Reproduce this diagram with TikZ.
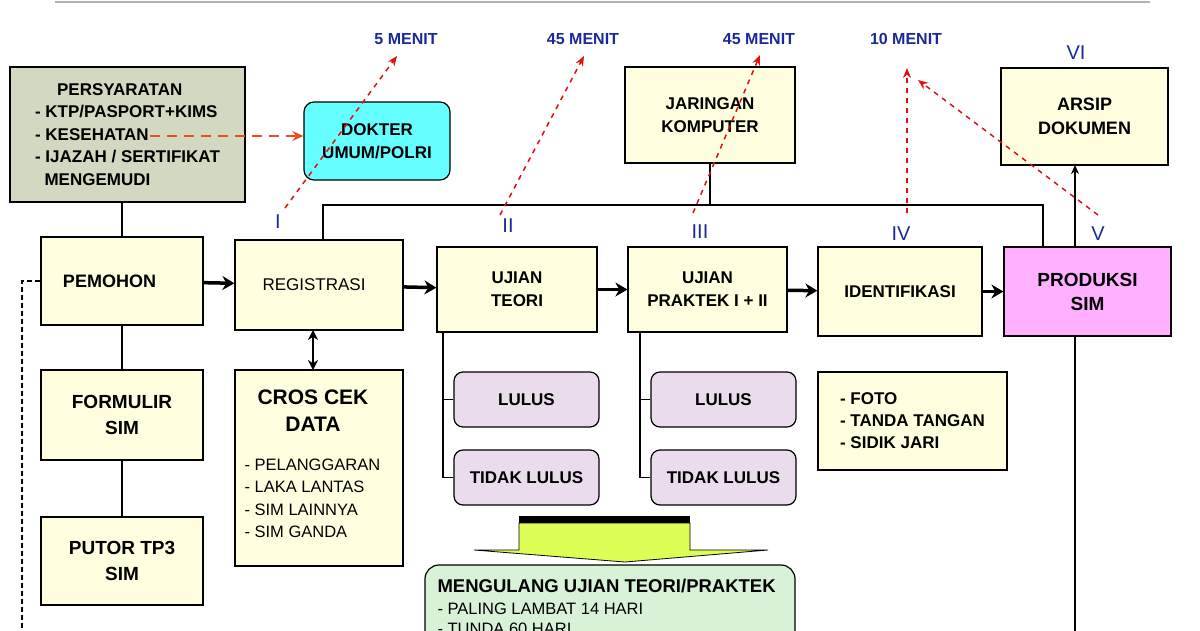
\documentclass[tikz,border=0pt]{standalone}
\usepackage{fontspec}
\setmainfont{Liberation Sans}
\usetikzlibrary{arrows.meta}
\definecolor{greenbox}{HTML}{D3D8C0}
\definecolor{yel}{HTML}{FFFFE0}
\definecolor{cyanb}{HTML}{66FFFF}
\definecolor{pinkb}{HTML}{FFB0FF}
\definecolor{lav}{HTML}{EADCEC}
\definecolor{mint}{HTML}{D8F2D8}
\definecolor{lime}{HTML}{DDFF55}
\definecolor{navy}{HTML}{1A2A9A}
\definecolor{rd}{HTML}{E01010}
\definecolor{orng}{HTML}{E85020}
\tikzset{
 bx/.style={draw,line width=1.2pt,fill=yel,font=\fontsize{17}{20}\selectfont\bfseries,align=center},
 rbx/.style={bx,rounded corners=9pt,fill=lav},
 flow/.style={line width=3.5pt,-{Stealth[length=12pt,width=14pt]}},
 ln/.style={line width=1.2pt},
 rdash/.style={rd,line width=1.5pt,dash pattern=on 5pt off 5pt,-{Stealth[length=10pt,width=8pt]}},
 lbl/.style={text=navy,font=\fontsize{16}{18}\selectfont\bfseries},
 rom/.style={text=navy,font=\fontsize{20}{22}\selectfont},
}
\begin{document}
\begin{tikzpicture}[x=1pt,y=-1pt]
\useasboundingbox (0,0) rectangle (1200,630);
\fill[white] (0,0) rectangle (1200,630);
\draw[gray!60,line width=2.5pt] (55,2) -- (1150,2);
% boxes
\node[bx,fill=greenbox,minimum width=235pt,minimum height=135pt,align=left,font=\fontsize{17}{22.5}\selectfont\bfseries] (pers) at (127.5,134.5)
 {\hspace*{22pt}PERSYARATAN\\- KTP/PASPORT+KIMS\\- KESEHATAN\\- IJAZAH / SERTIFIKAT\\\ \ MENGEMUDI};
\node[bx,fill=cyanb,rounded corners=10pt,minimum width=146pt,minimum height=78pt,font=\fontsize{17}{23}\selectfont\bfseries] (dok) at (377,141) {DOKTER\\UMUM/POLRI};
\node[bx,minimum width=162pt,minimum height=88pt,font=\fontsize{18}{20}\selectfont\bfseries] (pem) at (122,281) {PEMOHON\hspace*{25pt}};
\node[bx,minimum width=168pt,minimum height=90pt,font=\fontsize{17}{20}\selectfont] (reg) at (319,285) {REGISTRASI\hspace*{10pt}};
\node[bx,minimum width=160pt,minimum height=85pt,font=\fontsize{17}{23}\selectfont\bfseries] (teo) at (517,289.5) {UJIAN\\TEORI};
\node[bx,minimum width=159pt,minimum height=85pt,font=\fontsize{17}{23}\selectfont\bfseries] (pra) at (707.5,289.5) {UJIAN\\PRAKTEK I + II};
\node[bx,minimum width=164pt,minimum height=89pt] (ide) at (900,291.5) {IDENTIFIKASI};
\node[bx,fill=pinkb,minimum width=167pt,minimum height=89pt,font=\fontsize{19}{24}\selectfont\bfseries] (pro) at (1087.5,291.5) {PRODUKSI\\SIM};
\node[bx,minimum width=170pt,minimum height=96pt,font=\fontsize{17}{23}\selectfont\bfseries] (jar) at (710,115) {JARINGAN\\KOMPUTER};
\node[bx,minimum width=167pt,minimum height=97pt,font=\fontsize{18}{24}\selectfont\bfseries] (ars) at (1084.5,116.5) {ARSIP\\DOKUMEN};
\node[bx,minimum width=162pt,minimum height=90pt,font=\fontsize{19}{26}\selectfont\bfseries] (for) at (122,415) {FORMULIR\\SIM};
\node[bx,minimum width=162pt,minimum height=88pt,font=\fontsize{19}{26}\selectfont\bfseries] (put) at (122,561) {PUTOR TP3\\SIM};
\node[draw,line width=1.2pt,fill=yel,minimum width=168pt,minimum height=196pt] (cro) at (319,468) {};
\node[font=\fontsize{21}{27}\selectfont\bfseries,align=center,anchor=north] (crot) at (313,386) {CROS CEK\\DATA};
\node[font=\fontsize{16.5}{22.5}\selectfont,align=left,anchor=north west] (crol) at (241,455) {- PELANGGARAN\\- LAKA LANTAS\\- SIM LAINNYA\\- SIM GANDA};
\node[rbx,minimum width=145pt,minimum height=55pt] (l1) at (526.5,399.5) {LULUS};
\node[rbx,minimum width=145pt,minimum height=55pt] (t1) at (526.5,477.5) {TIDAK LULUS};
\node[rbx,minimum width=145pt,minimum height=55pt] (l2) at (723.5,399.5) {LULUS};
\node[rbx,minimum width=145pt,minimum height=55pt] (t2) at (723.5,477.5) {TIDAK LULUS};
\node[bx,minimum width=189pt,minimum height=98pt,align=left,font=\fontsize{17}{22}\selectfont\bfseries] (fot) at (912.5,421) {- FOTO\\- TANDA TANGAN\\- SIDIK JARI\hspace*{40pt}};
\node[draw,line width=1.2pt,fill=mint,rounded corners=14pt,minimum width=370pt,minimum height=90pt] (men) at (610,610) {};
\node[anchor=north west,font=\fontsize{18.5}{20}\selectfont\bfseries] (ment) at (434,576) {MENGULANG UJIAN TEORI/PRAKTEK};
\node[anchor=north west,font=\fontsize{16.5}{20}\selectfont,align=left] (menl) at (434,599) {- PALING LAMBAT 14 HARI\\- TUNDA 60 HARI};
% big arrow
\fill (519,516) rectangle (690,523);
\draw[fill=lime,line width=0.8pt] (519,523) -- (690,523) -- (690,550) -- (768,550) -- (625,562) -- (474,550) -- (519,550) -- cycle;
% connectors
\draw[ln] (pers.south -| pem.north) -- (pem.north);
\draw[ln] (pem.south) -- (for.north);
\draw[ln] (for.south) -- (put.north);
\coordinate (dl) at (22,281);
\coordinate (dd) at (22,640);
\draw[ln,dash pattern=on 5pt off 3pt] (pem.west) -- (dl) -- (dd);
\draw[flow] (pem) -- (reg);
\draw[flow] (reg) -- (teo);
\draw[flow] (teo) -- (pra);
\draw[flow] (pra) -- (ide);
\draw[flow] (ide) -- (pro);
\draw[line width=2pt,{Stealth[length=10pt,width=10pt]}-{Stealth[length=10pt,width=10pt]}] (313,330) -- (313,370);
\coordinate (b1) at (323,205);
\coordinate (b2) at (1043,205);
\draw[ln] (323,240) -- (b1) -- (b2) -- (1043,247);
\draw[ln] (jar.south) -- (710,205);
\draw[ln] (443,332) |- (t1.west);
\draw[ln] (443,399.5) -- (l1.west);
\draw[ln] (640,332) |- (t2.west);
\draw[ln] (640,399.5) -- (l2.west);
\draw[ln] (1075,640) -- (pro.south -| 1075,0);
\draw[ln,-{Stealth[length=9pt,width=8pt]}] (1075,247) -- (1075,165);
% orange dashed
\coordinate (k1) at (150,136);
\draw[orng,line width=2.2pt,dash pattern=on 10pt off 7pt,-{Stealth[length=11pt,width=10pt]}] (k1) -- (k1 -| dok.west);
% roman labels
\node[rom] (r1) at (278,222) {I};
\node[rom] (r2) at (508,226) {II};
\node[rom] (r3) at (700,232) {III};
\node[rom] (r4) at (901,234) {IV};
\node[rom] (r5) at (1098,234) {V};
\node[rom] (r6) at (1076,53) {VI};
% menit
\node[lbl] (m1) at (406,39) {5 MENIT};
\node[lbl] (m2) at (583,39) {45 MENIT};
\node[lbl] (m3) at (759,39) {45 MENIT};
\node[lbl] (m4) at (906,39) {10 MENIT};
\draw[rdash] (285,208) -- (397,56);
\draw[rdash] (500,215) -- (584,56);
\draw[rdash] (693,213) -- (760,55);
\draw[rdash] (907,213) -- (907,68);
\draw[rdash] (1098,215) -- (918,80);
\end{tikzpicture}
\end{document}
